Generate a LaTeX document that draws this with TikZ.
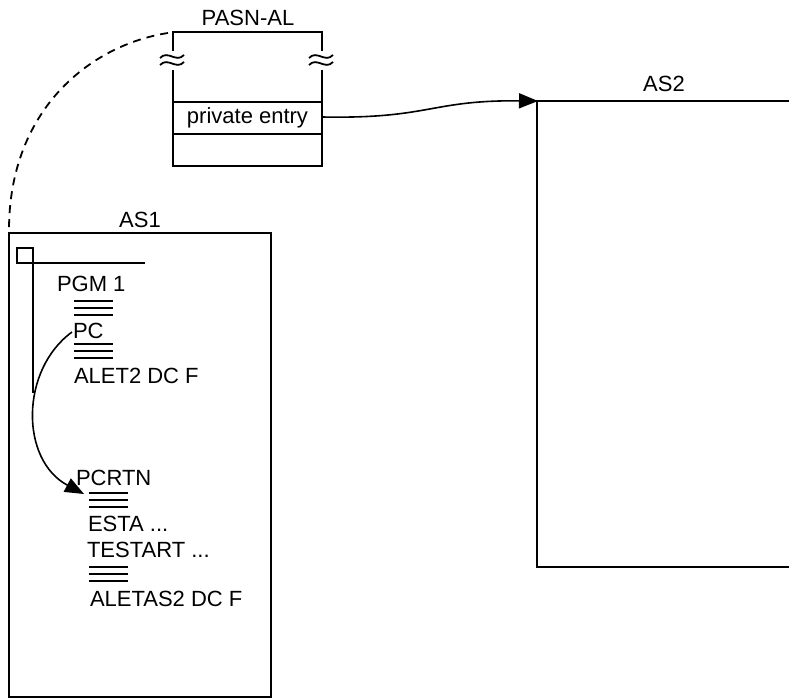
\documentclass[tikz,border=0pt]{standalone}
\usepackage{fontspec}
\setmainfont{Liberation Sans}
\usetikzlibrary{arrows.meta}
\tikzset{
  boxline/.style={line width=2pt, black},
  lbl/.style={inner sep=0pt, outer sep=0pt, font=\fontsize{22}{24}\selectfont, anchor=base west},
  clbl/.style={inner sep=0pt, outer sep=0pt, font=\fontsize{22}{24}\selectfont, anchor=base},
  conn/.style={line width=1.6pt, -{Triangle[length=19pt,width=15pt]}},
}
\newcommand{\approxmark}[2]{%
  \foreach \dy in {-3.5,3.5}{%
    \draw[line width=1.8pt] (#1-12,#2+\dy+1.5) .. controls (#1-4,#2+\dy-7) and (#1+4,#2+\dy+7) .. (#1+12,#2+\dy-1.5);
  }%
}
\newcommand{\tripleline}[2]{%
  \foreach \dy in {0,7,14}{%
    \draw[line width=2pt] (#1,#2+\dy) -- (#1+39,#2+\dy);
  }%
}
\begin{document}
\begin{tikzpicture}[x=1pt,y=-1pt]
\useasboundingbox (0,0) rectangle (789,698);
% PASN-AL box
\node[clbl] (pasnlbl) at (248,26) {PASN-AL};
\draw[boxline] (173,51) -- (173,32) -- (322,32) -- (322,51);
\draw[boxline] (173,70) -- (173,166) -- (322,166) -- (322,70);
\draw[boxline] (173,102) -- (322,102);
\draw[boxline] (173,134) -- (322,134);
\approxmark{172}{60}
\approxmark{321}{60}
\node[clbl] (priv) at (247.5,124) {private entry};
\coordinate (privout) at (322,117);
\coordinate (pasncorner) at (168,33);
% AS1 box
\node[clbl] (as1lbl) at (140,227) {AS1};
\draw[boxline] (9,233) rectangle (271,697);
\coordinate (as1corner) at (9,230);
% small square and lines
\draw[boxline] (17,248) rectangle (33,263);
\draw[boxline] (33,263) -- (145,263);
\draw[boxline] (33,263) -- (33,393);
% texts in AS1
\node[lbl] (pgm) at (57,291) {PGM 1};
\tripleline{74}{301}
\node[lbl] (pc) at (73,338) {PC};
\tripleline{74}{344}
\node[lbl] (alet) at (74,383) {ALET2 DC F};
\node[lbl] (pcrtn) at (76,485) {PCRTN};
\tripleline{89}{493}
\node[lbl] (esta) at (88,531) {ESTA ...};
\node[lbl] (testart) at (87,557) {TESTART ...};
\tripleline{89}{567}
\node[lbl] (aletas) at (90,606) {ALETAS2 DC F};
\coordinate (pcin) at (72,332);
\coordinate (pcrtntip) at (84,494);
% AS2 box
\node[clbl] (as2lbl) at (664,92) {AS2};
\draw[boxline] (789,101) -- (537,101) -- (537,567) -- (789,567);
\coordinate (as2corner) at (538,101);
% connectors
\draw[line width=1.8pt, dash pattern=on 8pt off 6pt] (pasncorner) .. controls (90,45) and (9,110) .. (as1corner);
\draw[conn] (pcin) .. controls (20,370) and (20,460) .. (pcrtntip);
\draw[conn] (privout) .. controls (430,119) and (430,100) .. (as2corner);
\end{tikzpicture}
\end{document}
